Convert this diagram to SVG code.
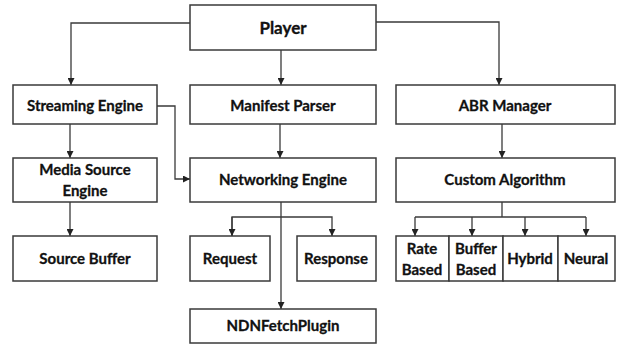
<svg xmlns="http://www.w3.org/2000/svg" width="617" height="344" viewBox="0 0 617 344">
<style>
.box{fill:#fff;stroke:#3a3a3a;stroke-width:1.5}
.t{font-family:Lato,"Open Sans",sans-serif;font-weight:bold;font-size:15px;fill:#111;stroke:#111;stroke-width:0.3;text-anchor:middle}
.big{font-size:17px}
.c{fill:none;stroke:#3a3a3a;stroke-width:1.3}
</style>
<defs>
<marker id="a" viewBox="0 0 10 10" refX="10" refY="5" markerWidth="7" markerHeight="7" orient="auto" markerUnits="userSpaceOnUse">
<path d="M0,0 L10,5 L0,10 z" fill="#222"/>
</marker>
</defs>
<rect width="617" height="344" fill="#fff"/>
<g id="connectors">
<path class="c" d="M190,23 H71 V85" marker-end="url(#a)"/>
<path class="c" d="M281,50 V85" marker-end="url(#a)"/>
<path class="c" d="M376,22 H499 V85" marker-end="url(#a)"/>
<path class="c" d="M70,124 V158" marker-end="url(#a)"/>
<path class="c" d="M157,106 H175 V179 H190" marker-end="url(#a)"/>
<path class="c" d="M280,124 V158" marker-end="url(#a)"/>
<path class="c" d="M502,124 V158" marker-end="url(#a)"/>
<path class="c" d="M70,202 V236" marker-end="url(#a)"/>
<path class="c" d="M281,202 V309" marker-end="url(#a)"/>
<path class="c" d="M232,236 V217 H332 V236" marker-end="url(#a)"/>
<path class="c" d="M232,217 V236" marker-end="url(#a)"/>
<path class="c" d="M502,202 V217"/>
<path class="c" d="M415,217 H586"/>
<path class="c" d="M415,217 V236" marker-end="url(#a)"/>
<path class="c" d="M472,217 V236" marker-end="url(#a)"/>
<path class="c" d="M525,217 V236" marker-end="url(#a)"/>
<path class="c" d="M586,217 V236" marker-end="url(#a)"/>
</g>
<g id="player"><rect class="box" x="190" y="5" width="186" height="45"/><text class="t big" x="283" y="34">Player</text></g>
<g id="streaming"><rect class="box" x="13" y="85" width="144" height="39"/><text class="t" x="85" y="111">Streaming Engine</text></g>
<g id="manifest"><rect class="box" x="190" y="85" width="186" height="39"/><text class="t" x="283" y="111">Manifest Parser</text></g>
<g id="abr"><rect class="box" x="396" y="85" width="219" height="39"/><text class="t" x="505" y="111">ABR Manager</text></g>
<g id="mse"><rect class="box" x="13" y="158" width="144" height="44"/><text class="t" x="85" y="175">Media Source</text><text class="t" x="85" y="196">Engine</text></g>
<g id="networking"><rect class="box" x="190" y="158" width="186" height="44"/><text class="t" x="283" y="185">Networking Engine</text></g>
<g id="custom"><rect class="box" x="396" y="158" width="219" height="44"/><text class="t" x="505" y="185">Custom Algorithm</text></g>
<g id="sourcebuffer"><rect class="box" x="13" y="236" width="144" height="45"/><text class="t" x="85" y="264">Source Buffer</text></g>
<g id="request"><rect class="box" x="190" y="236" width="80" height="45"/><text class="t" x="230" y="264">Request</text></g>
<g id="response"><rect class="box" x="297" y="236" width="79" height="45"/><text class="t" x="336" y="264">Response</text></g>
<g id="ndn"><rect class="box" x="190" y="309" width="186" height="34"/><text class="t" x="283" y="331">NDNFetchPlugin</text></g>
<g id="rate"><rect class="box" x="396" y="236" width="53" height="45"/><text class="t" x="422" y="254">Rate</text><text class="t" x="422" y="275">Based</text></g>
<g id="bufferbased"><rect class="box" x="449" y="236" width="54" height="45"/><text class="t" x="476" y="254">Buffer</text><text class="t" x="476" y="275">Based</text></g>
<g id="hybrid"><rect class="box" x="503" y="236" width="55" height="45"/><text class="t" x="530" y="264">Hybrid</text></g>
<g id="neural"><rect class="box" x="558" y="236" width="57" height="45"/><text class="t" x="586" y="264">Neural</text></g>
</svg>
